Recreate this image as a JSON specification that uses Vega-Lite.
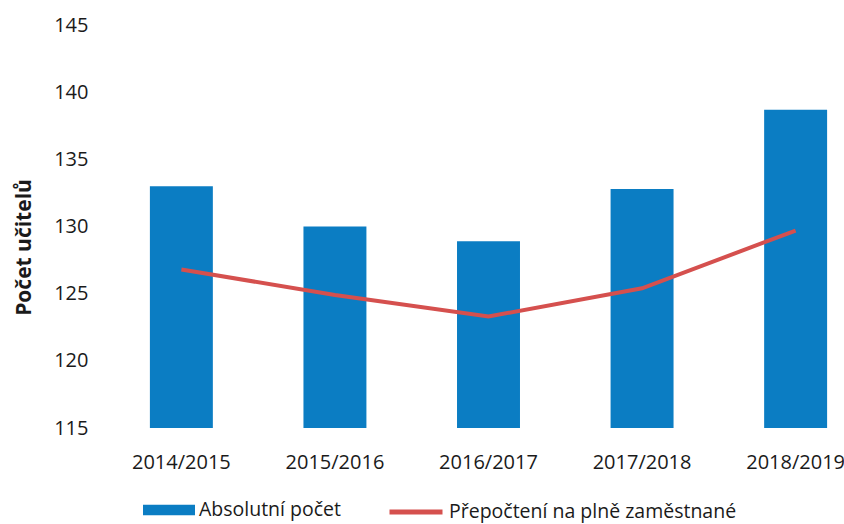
{
  "$schema": "https://vega.github.io/schema/vega-lite/v6.json",
  "width": 711,
  "height": 403,
  "autosize": {"type": "none"},
  "padding": {"left": 133, "top": 25, "right": 0, "bottom": 96},
  "background": "white",
  "config": {
    "view": {"stroke": null},
    "font": "Open Sans",
    "axis": {"labelFont": "Open Sans", "titleFont": "Open Sans", "labelColor": "#1a1a1a", "titleColor": "#1a1a1a"}
  },
  "data": {
    "values": [
      {"rok": "2014/2015", "absolutni": 133, "prepocteni": 126.8},
      {"rok": "2015/2016", "absolutni": 130, "prepocteni": 124.9},
      {"rok": "2016/2017", "absolutni": 128.9, "prepocteni": 123.3},
      {"rok": "2017/2018", "absolutni": 132.8, "prepocteni": 125.4},
      {"rok": "2018/2019", "absolutni": 138.7, "prepocteni": 129.7}
    ]
  },
  "encoding": {
    "x": {
      "field": "rok",
      "type": "nominal",
      "sort": null,
      "scale": {"paddingInner": 0.59, "paddingOuter": 0.11},
      "axis": {"title": null, "labelAngle": 0, "labelFontSize": 20, "labelPadding": 24, "ticks": false, "domain": false}
    }
  },
  "layer": [
    {
      "mark": {"type": "bar"},
      "encoding": {
        "y": {
          "field": "absolutni",
          "type": "quantitative",
          "scale": {"domain": [115, 145], "zero": false, "nice": false},
          "axis": {
            "title": "Počet učitelů",
            "titleFontSize": 21,
            "titleFontWeight": "bold",
            "titleX": -99,
            "titleY": 222,
            "values": [115, 120, 125, 130, 135, 140, 145],
            "labelFontSize": 20,
            "labelPadding": 45,
            "ticks": false,
            "domain": false,
            "grid": false
          }
        },
        "y2": {"datum": 115},
        "fill": {
          "datum": "Absolutní počet",
          "scale": {"range": ["#0B7DC3"]},
          "legend": {
            "title": null,
            "orient": "none",
            "legendX": 10,
            "legendY": 459,
            "symbolType": "M-1,-0.2L1,-0.2L1,0.2L-1,0.2Z",
            "symbolSize": 2704,
            "symbolStrokeWidth": 0,
            "labelFontSize": 19.5,
            "labelColor": "#1a1a1a",
            "labelOffset": 4,
            "labelLimit": 400
          }
        }
      }
    },
    {
      "mark": {"type": "line", "strokeWidth": 4},
      "encoding": {
        "y": {"field": "prepocteni", "type": "quantitative"},
        "stroke": {
          "datum": "Přepočtení na plně zaměstnané",
          "scale": {"range": ["#D5504E"]},
          "legend": {
            "title": null,
            "orient": "none",
            "legendX": 254,
            "legendY": 458,
            "symbolType": "stroke",
            "symbolSize": 2809,
            "symbolStrokeWidth": 5,
            "labelFontSize": 19.5,
            "labelColor": "#1a1a1a",
            "labelOffset": 4,
            "labelLimit": 400
          }
        }
      }
    }
  ],
  "resolve": {"scale": {"y": "shared"}}
}
